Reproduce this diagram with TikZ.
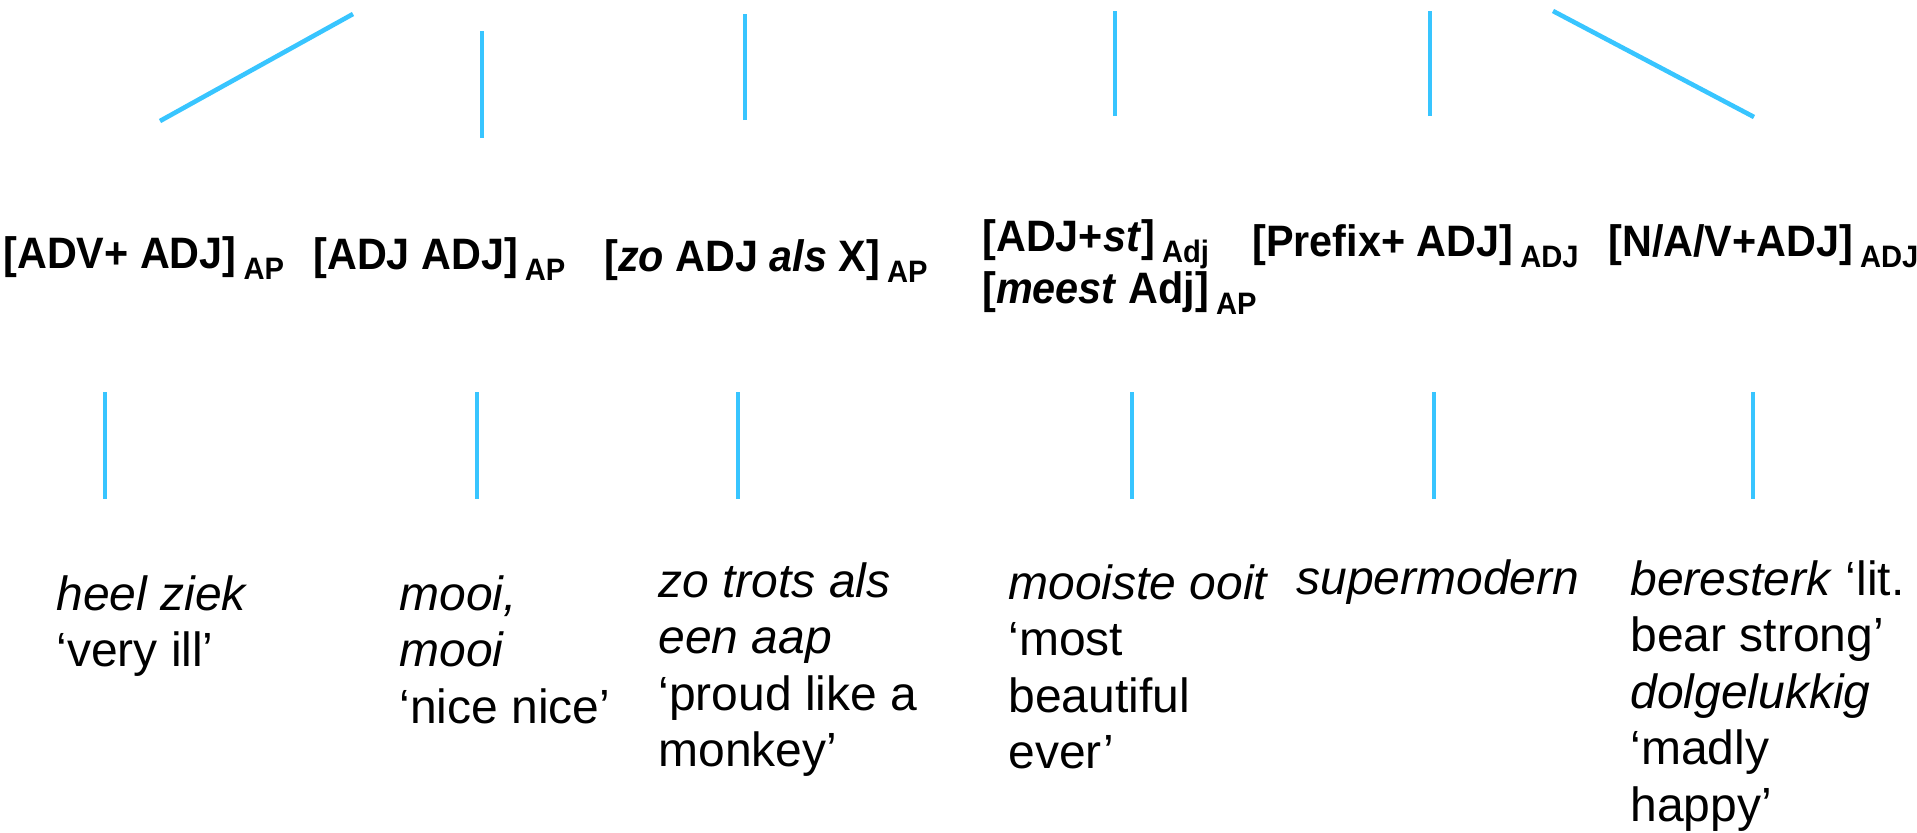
\documentclass[tikz,border=0pt]{standalone}
\usepackage{fontspec}
\setmainfont{Liberation Sans}
\newfontfamily\hdfont[FakeStretch=0.94]{Liberation Sans}
\definecolor{linkblue}{RGB}{56,197,255}
% subscript label after a bracketed pattern
\newcommand{\hsub}[1]{\kern3.5pt\raisebox{-5.5pt}{\fontsize{15.5pt}{17pt}\selectfont #1}}
\tikzset{
  hd/.style={anchor=base west, inner sep=0pt, align=left,
    font=\hdfont\bfseries\fontsize{22pt}{24.5pt}\selectfont},
  ex/.style={anchor=base west, inner sep=0pt, align=left,
    font=\fontsize{24pt}{28.25pt}\selectfont},
  link/.style={draw=linkblue, line width=2.3pt}
}
\begin{document}
\begin{tikzpicture}[x=0.5pt,y=-0.5pt]
\useasboundingbox (0,0) rectangle (1917,832);

% construction schemas (node base = baseline of the last line)
\node[hd] (h1) at (3,268)    {[ADV+ ADJ]\hsub{AP}};
\node[hd] (h2) at (313,269)  {[ADJ ADJ]\hsub{AP}};
\node[hd] (h3) at (604,271)  {[\textit{zo} ADJ \textit{als} X]\hsub{AP}};
\node[hd] (h4) at (982,303)  {[ADJ+\textit{st}]\hsub{Adj}\\{[}\textit{meest} Adj]\hsub{AP}};
\node[hd] (h5) at (1252,256) {[Prefix+ ADJ]\hsub{ADJ}};
\node[hd] (h6) at (1608,256) {[N/A/V+ADJ]\hsub{ADJ}};

% examples
\node[ex] (b1) at (56,666.5)   {\textit{heel ziek}\\‘very ill’};
\node[ex] (b2) at (399,723)    {\textit{mooi,}\\\textit{mooi}\\‘nice nice’};
\node[ex] (b3) at (658,766.5)  {\textit{zo trots als}\\\textit{een aap}\\‘proud like a\\monkey’};
\node[ex] (b4) at (1008,768.5) {\textit{mooiste ooit}\\‘most\\beautiful\\ever’};
\node[ex] (b5) at (1296,594)   {\textit{supermodern}};
\node[ex] (b6) at (1630,821)   {\textit{beresterk} ‘lit.\\bear strong’\\\textit{dolgelukkig}\\‘madly\\happy’};

% upper branches
\coordinate (t1a) at (160,121);  \coordinate (t1b) at (353,14);
\coordinate (t2a) at (482,138);  \coordinate (t2b) at (482,31);
\coordinate (t3a) at (745,120);  \coordinate (t3b) at (745,14);
\coordinate (t4a) at (1115,116); \coordinate (t4b) at (1115,11);
\coordinate (t5a) at (1430,116); \coordinate (t5b) at (1430,11);
\coordinate (t6a) at (1754,117); \coordinate (t6b) at (1553,11);
\foreach \i in {1,...,6} \draw[link] (t\i a) -- (t\i b);

% lower branches
\foreach \i/\x in {1/105,2/477,3/738,4/1132,5/1434,6/1753}{
  \coordinate (u\i a) at (\x,392);
  \coordinate (u\i b) at (\x,499);
  \draw[link] (u\i a) -- (u\i b);
}
\end{tikzpicture}
\end{document}
